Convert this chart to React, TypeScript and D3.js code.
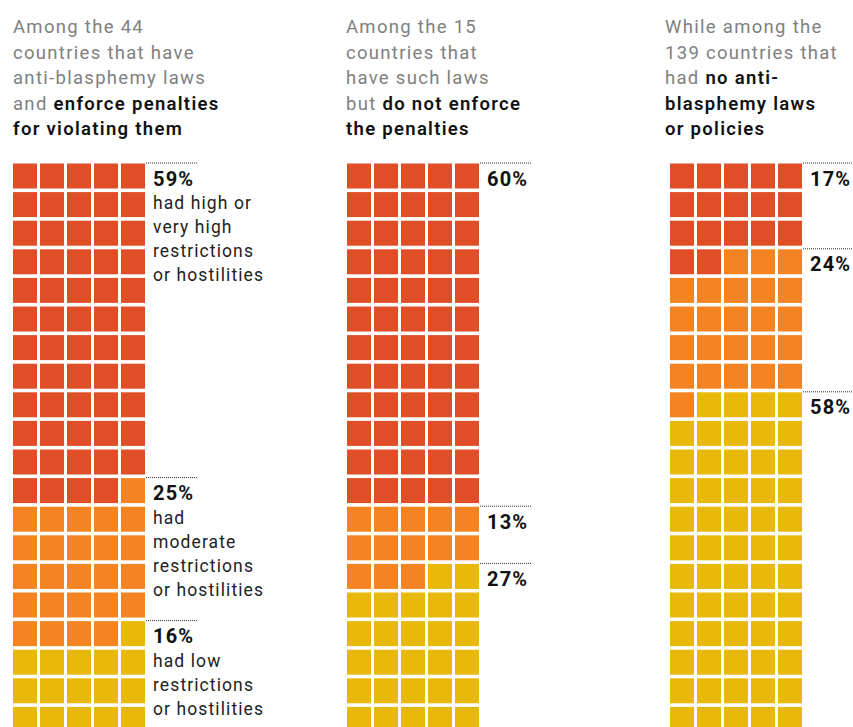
import React from "react";
import * as d3 from "d3";

const groupKeys = ["enforce", "noEnforce", "noLaws"];
const highValues = [59, 60, 17];
const moderateValues = [25, 13, 24];
const lowValues = [16, 27, 58];

const titleLines: [string, boolean][][] = [
  [
    [["Among the 44", false]],
    [["countries that have", false]],
    [["anti-blasphemy laws", false]],
    [["and ", false], ["enforce penalties", true]],
    [["for violating them", true]],
  ],
  [
    [["Among the 15", false]],
    [["countries that", false]],
    [["have such laws", false]],
    [["but ", false], ["do not enforce", true]],
    [["the penalties", true]],
  ],
  [
    [["While among the", false]],
    [["139 countries that", false]],
    [["had ", false], ["no anti-", true]],
    [["blasphemy laws", true]],
    [["or policies", true]],
  ],
] as any;

const highNotes = [["had high or", "very high", "restrictions", "or hostilities"], [], []];
const moderateNotes = [["had", "moderate", "restrictions", "or hostilities"], [], []];
const lowNotes = [["had low", "restrictions", "or hostilities"], [], []];

const colors = ["#E04E27", "#F48421", "#E8B90B"];
const FONT = "Roboto, 'DejaVu Sans', sans-serif";

const W = 853;
const H = 727;
const gridLeft = [13, 347, 670];
const titleLeft = [13, 346, 665];
const COLS = 5;
const ROWS = 20;
const top = 163.5;

export default function App() {
  const yScale = d3.scaleLinear().domain([0, ROWS]).range([top, top + ROWS * 28.6]);
  const cellW = 24;
  const cellH = 25;

  return (
    <svg
      width={W}
      height={H}
      style={{ position: "absolute", left: 0, top: 0, background: "#fff" }}
      fontFamily={FONT}
    >
      {groupKeys.map((key, gi) => {
        const xScale = d3.scaleLinear().domain([0, COLS]).range([gridLeft[gi], gridLeft[gi] + COLS * 27]);
        const segs = [highValues[gi], moderateValues[gi], lowValues[gi]];
        const notes = [highNotes[gi], moderateNotes[gi], lowNotes[gi]];
        const cum = Array.from(d3.cumsum(segs));
        const starts = segs.map((_, i) => (i === 0 ? 0 : cum[i - 1]));
        const cells = d3.range(COLS * ROWS).map((i) => {
          const cat = Math.min(segs.length - 1, d3.bisectRight(cum, i));
          return { i, cat, col: i % COLS, row: Math.floor(i / COLS) };
        });
        const lineX0 = xScale(COLS) - 2;
        const labelX = xScale(COLS) + 5;
        return (
          <g key={key}>
            <text fontSize={18.5} x={titleLeft[gi]} letterSpacing={1.3}>
              {titleLines[gi].map((line: any, li: number) => (
                <tspan key={li} x={titleLeft[gi]} y={33 + li * 25.6}>
                  {line.map((part: any, pi: number) => (
                    <tspan key={pi} fill={part[1] ? "#111" : "#808080"} fontWeight={part[1] ? 600 : 400}>
                      {part[0]}
                    </tspan>
                  ))}
                </tspan>
              ))}
            </text>
            {cells.map((c) => (
              <rect
                key={c.i}
                x={xScale(c.col)}
                y={yScale(c.row)}
                width={cellW}
                height={cellH}
                fill={colors[c.cat]}
              />
            ))}
            {segs.map((v, si) => {
              const row = Math.floor(starts[si] / COLS);
              const ly = yScale(row) - 0.5;
              return (
                <g key={si}>
                  <line
                    x1={lineX0}
                    x2={lineX0 + 51}
                    y1={ly}
                    y2={ly}
                    stroke="#333"
                    strokeWidth={1}
                    strokeDasharray="1,1"
                  />
                  <text x={labelX} y={ly + 22.5} fontSize={20} fontWeight={700} fill="#111" letterSpacing={1.2}>
                    {v}%
                  </text>
                  {notes[si].map((t: string, ti: number) => (
                    <text key={ti} x={labelX} y={ly + 46 + ti * 24} fontSize={17.5} fill="#222" letterSpacing={1.1}>
                      {t}
                    </text>
                  ))}
                </g>
              );
            })}
          </g>
        );
      })}
    </svg>
  );
}
